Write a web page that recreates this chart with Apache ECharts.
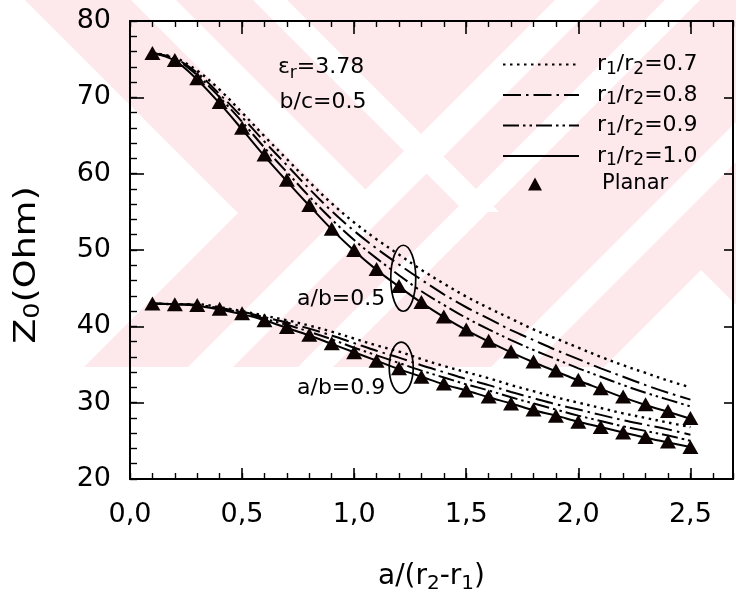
<!DOCTYPE html>
<html>
<head>
<meta charset="utf-8">
<title>Z0 vs a/(r2-r1)</title>
<script src="https://cdn.jsdelivr.net/npm/echarts@6/dist/echarts.min.js"></script>
<style>
  html, body { margin: 0; padding: 0; background: #ffffff; }
  #chart { width: 736px; height: 602px; }
</style>
</head>
<body>
<div id="chart"></div>
<script>
// ---- data -------------------------------------------------------------
const xValues = [0.1, 0.2, 0.3, 0.4, 0.5, 0.6, 0.7, 0.8, 0.9, 1.0, 1.1, 1.2, 1.3,
                 1.4, 1.5, 1.6, 1.7, 1.8, 1.9, 2.0, 2.1, 2.2, 2.3, 2.4, 2.5];

// a/b = 0.5
const ab05_r07 = [75.8, 75.2, 73.5, 71.0, 68.0, 64.9, 61.9, 58.9, 56.1, 53.6, 51.4, 49.4, 47.4,
                  45.6, 43.9, 42.4, 41.0, 39.6, 38.4, 37.2, 36.0, 34.9, 33.9, 32.9, 32.0];
const ab05_r08 = [75.8, 75.1, 73.2, 70.4, 67.4, 64.2, 61.1, 58.0, 55.1, 52.5, 50.2, 48.1, 46.1,
                  44.2, 42.5, 41.0, 39.5, 38.2, 36.9, 35.7, 34.5, 33.4, 32.3, 31.3, 30.4];
const ab05_r09 = [75.8, 75.0, 72.9, 70.0, 66.8, 63.4, 60.2, 57.0, 54.0, 51.3, 48.9, 46.7, 44.6,
                  42.8, 41.1, 39.6, 38.2, 36.9, 35.7, 34.5, 33.4, 32.3, 31.3, 30.4, 29.5];
const ab05_r10 = [75.8, 74.8, 72.3, 69.2, 65.8, 62.3, 59.0, 55.8, 52.7, 49.9, 47.4, 45.2, 43.1,
                  41.2, 39.5, 38.0, 36.6, 35.3, 34.1, 32.9, 31.8, 30.7, 29.7, 28.8, 27.9];
const ab05_planar = [75.8, 74.9, 72.5, 69.4, 66.0, 62.5, 59.2, 55.9, 52.8, 50.0, 47.5, 45.3, 43.2,
                     41.3, 39.6, 38.1, 36.7, 35.4, 34.2, 33.0, 31.9, 30.8, 29.8, 28.9, 28.0];

// a/b = 0.9
const ab09_r07 = [43.0, 42.9, 42.9, 42.5, 42.0, 41.4, 40.8, 40.1, 39.3, 38.4, 37.5, 36.7, 35.7,
                  34.8, 34.0, 33.2, 32.3, 31.5, 30.7, 30.0, 29.3, 28.6, 28.0, 27.4, 26.8];
const ab09_r08 = [43.0, 42.9, 42.8, 42.4, 41.9, 41.2, 40.5, 39.7, 38.8, 37.8, 36.8, 35.9, 34.9,
                  34.0, 33.1, 32.3, 31.4, 30.6, 29.8, 29.1, 28.4, 27.7, 27.1, 26.5, 25.8];
const ab09_r09 = [43.0, 42.9, 42.8, 42.3, 41.8, 41.0, 40.2, 39.3, 38.3, 37.2, 36.2, 35.2, 34.2,
                  33.3, 32.4, 31.6, 30.7, 29.9, 29.1, 28.3, 27.6, 26.9, 26.3, 25.7, 25.0];
const ab09_r10 = [43.0, 42.9, 42.7, 42.2, 41.6, 40.8, 39.8, 38.8, 37.7, 36.6, 35.5, 34.4, 33.4,
                  32.4, 31.6, 30.7, 29.9, 29.0, 28.3, 27.5, 26.8, 26.1, 25.4, 24.8, 24.2];
const ab09_planar = [43.0, 42.9, 42.8, 42.3, 41.7, 40.8, 39.9, 38.9, 37.8, 36.6, 35.5, 34.5, 33.4,
                     32.5, 31.6, 30.8, 29.9, 29.1, 28.3, 27.5, 26.8, 26.1, 25.5, 24.9, 24.2];

const legendNames = ['r1/r2=0.7', 'r1/r2=0.8', 'r1/r2=0.9', 'r1/r2=1.0', 'Planar'];
const xTickValues = [0, 0.5, 1.0, 1.5, 2.0, 2.5];
const yTickValues = [20, 30, 40, 50, 60, 70, 80];

// text placed in data coordinates: [x, y, rich text]
const notes = [
  [0.66, 73.9, '{t|ε}{s|r}{t|=3.78}'],
  [0.667, 69.3, '{t|b/c=0.5}'],
  [0.745, 43.6, '{t|a/b=0.5}'],
  [0.745, 31.9, '{t|a/b=0.9}']
];
// ellipses marking the two curve groups: [cx, cy] in data units, radii in px
const rings = [
  [1.219, 46.3, 12.5, 33],
  [1.21, 34.6, 12, 25.5]
];

// ---- styles -------------------------------------------------------------
const FONT = 'DejaVu Sans';
const INK = '#000000';
const dashStyles = {
  'r1/r2=0.7': [2.5, 4.5],
  'r1/r2=0.8': [18, 5, 2.5, 5],
  'r1/r2=0.9': [16, 4, 2.5, 4, 2.5, 4],
  'r1/r2=1.0': 'solid'
};

function pairs(ys) { return xValues.map((x, i) => [x, ys[i]]); }

function curve(name, ys) {
  return {
    name: name,
    type: 'line',
    data: pairs(ys),
    smooth: 0.35,
    symbol: 'none',
    z: 3,
    lineStyle: { color: INK, width: name === 'r1/r2=0.7' ? 2.4 : 2, type: dashStyles[name] },
    itemStyle: { color: INK }
  };
}
function planar(ys) {
  return {
    name: 'Planar',
    type: 'scatter',
    data: pairs(ys),
    symbol: 'triangle',
    symbolSize: [16, 14],
    z: 5,
    itemStyle: { color: '#0d0303', opacity: 1 }
  };
}

const series = [
  curve('r1/r2=0.7', ab05_r07), curve('r1/r2=0.8', ab05_r08),
  curve('r1/r2=0.9', ab05_r09), curve('r1/r2=1.0', ab05_r10),
  curve('r1/r2=0.7', ab09_r07), curve('r1/r2=0.8', ab09_r08),
  curve('r1/r2=0.9', ab09_r09), curve('r1/r2=1.0', ab09_r10),
  planar(ab05_planar), planar(ab09_planar)
];

const subRich = (size, sub, drop) => ({
  t: { fontFamily: FONT, fontSize: size, color: INK, lineHeight: size + 4 },
  s: { fontFamily: FONT, fontSize: sub, color: INK, lineHeight: sub + 1, padding: [drop, 0, 0, 0] }
});

const xLabel = v => xTickValues.some(t => Math.abs(t - v) < 1e-6) ? v.toFixed(1).replace('.', ',') : '';
const yLabel = v => yTickValues.indexOf(v) >= 0 ? String(v) : '';

const axisLine = { show: true, onZero: false, lineStyle: { color: INK, width: 2 } };
const XMAX = 2.69;

// legend entries: line keys show only the stroke, the planar key a small triangle
const legendData = legendNames.map(n => n === 'Planar'
  ? { name: n, icon: 'path://M0,0L0,0ZM76,14L76,14ZM25,14L32,1L39,14Z', itemStyle: { opacity: 1 } }
  : { name: n, itemStyle: { opacity: 0 } });

const option = {
  animation: false,
  backgroundColor: '#ffffff',
  grid: { left: 130, right: -5, top: 21, bottom: 123, containLabel: false },
  xAxis: [
    {
      type: 'value', min: 0, max: XMAX, interval: 0.5, position: 'bottom',
      axisLine: axisLine,
      axisTick: { inside: true, length: 11, lineStyle: { color: INK, width: 1.6 } },
      axisLabel: { formatter: xLabel, fontFamily: FONT, fontSize: 27, color: INK, margin: 22 },
      splitLine: { show: false },
      name: '{t|a/(r}{s|2}{t|-r}{s|1}{t|)}',
      nameLocation: 'middle', nameGap: 82,
      nameTextStyle: { rich: subRich(28, 20, 13) }
    },
    {
      type: 'value', min: 0, max: XMAX, interval: 0.1, position: 'bottom',
      axisLine: { show: false, onZero: false },
      axisTick: { inside: true, length: 6, lineStyle: { color: INK, width: 1.4 } },
      axisLabel: { show: false }, splitLine: { show: false }
    },
    {
      type: 'value', min: 0, max: XMAX, interval: 0.5, position: 'top',
      axisLine: axisLine,
      axisTick: { inside: true, length: 13, lineStyle: { color: INK, width: 1.6 } },
      axisLabel: { show: false }, splitLine: { show: false }
    },
    {
      type: 'value', min: 0, max: XMAX, interval: 0.1, position: 'top',
      axisLine: { show: false, onZero: false },
      axisTick: { inside: true, length: 6, lineStyle: { color: INK, width: 1.4 } },
      axisLabel: { show: false }, splitLine: { show: false }
    }
  ],
  yAxis: [
    {
      type: 'value', min: 20, max: 80, interval: 10, position: 'left',
      axisLine: axisLine,
      axisTick: { inside: true, length: 14, lineStyle: { color: INK, width: 1.6 } },
      axisLabel: { formatter: yLabel, fontFamily: FONT, fontSize: 27, color: INK, margin: 19 },
      splitLine: { show: false }
    },
    {
      type: 'value', min: 20, max: 80, interval: 2, position: 'left',
      axisLine: { show: false, onZero: false },
      axisTick: { inside: true, length: 7, lineStyle: { color: INK, width: 1.4 } },
      axisLabel: { show: false }, splitLine: { show: false }
    },
    {
      type: 'value', min: 20, max: 80, interval: 10, position: 'right',
      axisLine: axisLine,
      axisTick: { inside: true, length: 9, lineStyle: { color: INK, width: 1.6 } },
      axisLabel: { show: false }, splitLine: { show: false }
    }
  ],
  legend: {
    data: legendData,
    orient: 'vertical',
    left: 497, top: 46,
    itemWidth: 76, itemHeight: 14, itemGap: 3.5,
    selectedMode: false,
    textStyle: {
      padding: [0, 0, 0, 13], color: INK,
      rich: {
        t: { fontFamily: FONT, fontSize: 22, color: INK, lineHeight: 26 },
        s: { fontFamily: FONT, fontSize: 17, color: INK, lineHeight: 16, padding: [10, 0, 0, 0] },
        p: { fontFamily: FONT, fontSize: 21, color: INK, lineHeight: 26, padding: [0, 0, 0, 5] }
      }
    },
    formatter: function (name) {
      if (name === 'Planar') return '{p|Planar}';
      return '{t|r}{s|1}{t|/r}{s|2}{t|=' + name.split('=')[1] + '}';
    }
  },
  series: series
};

const chart = echarts.init(document.getElementById('chart'), null, { renderer: 'canvas' });
chart.setOption(option);

// pale watermark behind the plot
const PINK = '#fde8ec';
const whiteCuts = [
  [[0, 0], [25, 0], [238, 213], [84, 367], [0, 367]],
  [[131, 0], [176, 0], [388, 212], [343, 212]],
  [[555, 0], [600, 0], [233, 367], [188, 367]],
  [[253, 0], [287, 0], [499, 212], [465, 212]],
  [[665, 0], [700, 0], [333, 367], [298, 367]],
  [[736, 122], [736, 162], [531, 367], [491, 367]],
  [[701, 270], [798, 367], [604, 367]]
];
const graphics = [
  { type: 'rect', z: -100, silent: true, shape: { x: 0, y: 0, width: 736, height: 367 }, style: { fill: PINK } }
];
whiteCuts.forEach(pts => graphics.push({
  type: 'polygon', z: -99, silent: true, shape: { points: pts }, style: { fill: '#ffffff' }
}));

// vertical axis title, drawn slightly elongated along its reading direction
graphics.push({
  type: 'text', z: 50, x: 27, y: 265, rotation: Math.PI / 2, scaleX: 1.22,
  style: { text: '{t|Z}{s|0}{t|(Ohm)}', rich: subRich(30, 21, 14), align: 'center', verticalAlign: 'middle' }
});

notes.forEach(n => {
  const p = chart.convertToPixel({ gridIndex: 0 }, [n[0], n[1]]);
  graphics.push({
    type: 'text', z: 50, x: p[0], y: p[1],
    style: { text: n[2], rich: subRich(22, 17, 12), align: 'left', verticalAlign: 'middle' }
  });
});
rings.forEach(r => {
  const c = chart.convertToPixel({ gridIndex: 0 }, [r[0], r[1]]);
  graphics.push({
    type: 'ellipse', z: 50,
    shape: { cx: c[0], cy: c[1], rx: r[2], ry: r[3] },
    style: { fill: 'none', stroke: INK, lineWidth: 1.7 }
  });
});
chart.setOption({ graphic: graphics });
</script>
</body>
</html>
